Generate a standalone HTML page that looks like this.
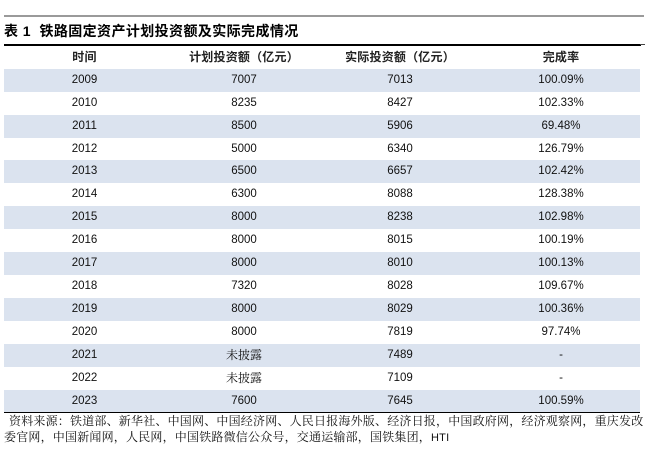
<!DOCTYPE html>
<html><head><meta charset="utf-8">
<style>
html,body{margin:0;padding:0;background:#fff;}
body{width:655px;height:453px;position:relative;overflow:hidden;font-family:"Liberation Sans","Noto Sans CJK SC",sans-serif;color:#111;}
.abs{position:absolute;}
.topline{left:4px;top:15px;width:640px;height:2px;background:#9a9a9a;}
.title{left:4px;top:21px;height:20px;line-height:20px;font-size:14px;font-weight:bold;letter-spacing:0.4px;font-family:"Liberation Sans","Noto Sans CJK SC",sans-serif;color:#000;white-space:nowrap;}
.blackline{left:4px;top:44px;width:637px;height:2px;background:#000;}
.blackline2{left:640px;top:44px;width:5px;height:1px;background:#444;}
.row{position:absolute;left:4px;width:636px;height:23px;}
.row.s{background:#dbe3ef;}
.row span{position:absolute;top:0;width:150px;text-align:center;height:23px;line-height:23px;font-size:11.5px;white-space:nowrap;}
.c1{left:5.5px;}.c2{left:165px;}.c3{left:321px;}.c4{left:482px;}
.hdr span{font-size:12px;font-weight:bold;font-family:"Liberation Sans","Noto Sans CJK SC",sans-serif;letter-spacing:0.2px;color:#222;}
.cjk{font-family:"Liberation Serif","Noto Serif CJK SC",serif !important;font-size:12px !important;}
.bottom{left:4px;top:412px;width:636px;height:1px;background:#000;}
.src{left:4px;font-size:12px;letter-spacing:0.2px;font-family:"Liberation Serif","Noto Serif CJK SC",serif;color:#111;white-space:nowrap;height:15px;line-height:15px;}
</style></head>
<body>
<div class="abs topline"></div>
<div class="abs title">表 1 &nbsp;铁路固定资产计划投资额及实际完成情况</div>
<div class="abs blackline"></div>
<div class="abs blackline2"></div>

<div class="row hdr" style="top:46px;"><span class="c1">时间</span><span class="c2">计划投资额（亿元）</span><span class="c3">实际投资额（亿元）</span><span class="c4">完成率</span></div>

<div class="row s" style="top:68.7px;"><span class="c1">2009</span><span class="c2">7007</span><span class="c3">7013</span><span class="c4">100.09%</span></div>
<div class="row" style="top:91.6px;"><span class="c1">2010</span><span class="c2">8235</span><span class="c3">8427</span><span class="c4">102.33%</span></div>
<div class="row s" style="top:114.6px;"><span class="c1">2011</span><span class="c2">8500</span><span class="c3">5906</span><span class="c4">69.48%</span></div>
<div class="row" style="top:137.5px;"><span class="c1">2012</span><span class="c2">5000</span><span class="c3">6340</span><span class="c4">126.79%</span></div>
<div class="row s" style="top:160.4px;"><span class="c1">2013</span><span class="c2">6500</span><span class="c3">6657</span><span class="c4">102.42%</span></div>
<div class="row" style="top:183.4px;"><span class="c1">2014</span><span class="c2">6300</span><span class="c3">8088</span><span class="c4">128.38%</span></div>
<div class="row s" style="top:206.3px;"><span class="c1">2015</span><span class="c2">8000</span><span class="c3">8238</span><span class="c4">102.98%</span></div>
<div class="row" style="top:229.2px;"><span class="c1">2016</span><span class="c2">8000</span><span class="c3">8015</span><span class="c4">100.19%</span></div>
<div class="row s" style="top:252.1px;"><span class="c1">2017</span><span class="c2">8000</span><span class="c3">8010</span><span class="c4">100.13%</span></div>
<div class="row" style="top:275.1px;"><span class="c1">2018</span><span class="c2">7320</span><span class="c3">8028</span><span class="c4">109.67%</span></div>
<div class="row s" style="top:298.0px;"><span class="c1">2019</span><span class="c2">8000</span><span class="c3">8029</span><span class="c4">100.36%</span></div>
<div class="row" style="top:320.9px;"><span class="c1">2020</span><span class="c2">8000</span><span class="c3">7819</span><span class="c4">97.74%</span></div>
<div class="row s" style="top:343.9px;"><span class="c1">2021</span><span class="c2 cjk">未披露</span><span class="c3">7489</span><span class="c4">-</span></div>
<div class="row" style="top:366.8px;"><span class="c1">2022</span><span class="c2 cjk">未披露</span><span class="c3">7109</span><span class="c4">-</span></div>
<div class="row s" style="top:389.7px;"><span class="c1">2023</span><span class="c2">7600</span><span class="c3">7645</span><span class="c4">100.59%</span></div>

<div class="abs bottom"></div>
<div class="abs src" style="top:414px;left:9px;">资料来源：铁道部、新华社、中国网、中国经济网、人民日报海外版、经济日报，中国政府网，经济观察网，重庆发改</div>
<div class="abs src" style="top:430px;">委官网，中国新闻网，人民网，中国铁路微信公众号，交通运输部，国铁集团，<span style="font-family:'Liberation Sans',sans-serif;font-size:11px;">HTI</span></div>
</body></html>
